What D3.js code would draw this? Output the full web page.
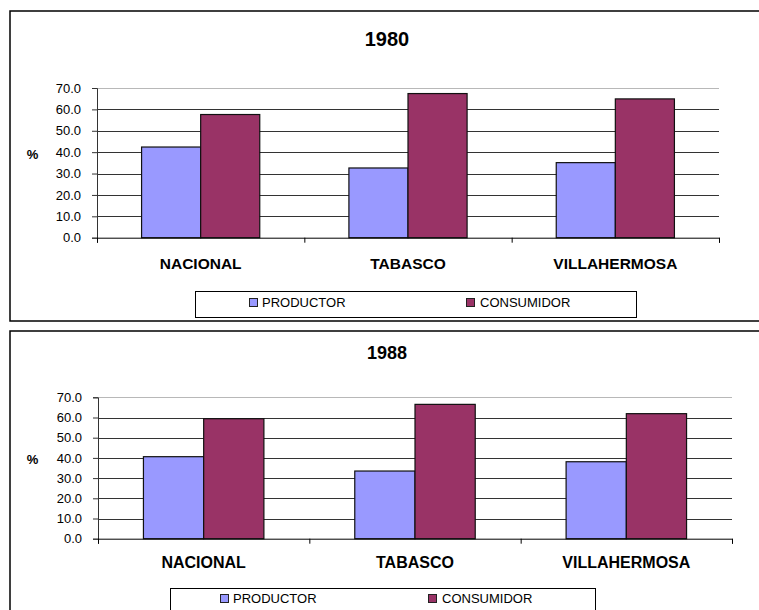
<!DOCTYPE html>
<html>
<head>
<meta charset="utf-8">
<style>
  body { margin: 0; background: #fff; }
  svg { display: block; font-family: "Liberation Sans", Arial, sans-serif; }
</style>
</head>
<body>
<div id="container"></div>
<script src="https://cdn.jsdelivr.net/npm/d3@7/dist/d3.min.js"></script>
<script>
// categories and series
var categories = ["NACIONAL", "TABASCO", "VILLAHERMOSA"];
var seriesNames = ["PRODUCTOR", "CONSUMIDOR"];
var seriesColors = ["#9999ff", "#993366"];
var yTicks = [0, 10, 20, 30, 40, 50, 60, 70];

// values (%)
var productor1980 = [42.4, 32.6, 35.1];
var consumidor1980 = [57.6, 67.4, 64.9];
var productor1988 = [40.6, 33.5, 38.1];
var consumidor1988 = [59.4, 66.5, 61.9];

var W = 759, H = 610;
var svg = d3.select("#container").append("svg")
  .attr("width", W)
  .attr("height", H);

// each panel: frame, plot box, title / labels / legend placement
var panels = [
  { year: "1980", series: [productor1980, consumidor1980],
    frame: [10, 11, 760, 310],
    left: 97, right: 719, top: 88, bottom: 237.7,
    titleY: 46, titleSize: 20, pctY: 159, catY: 269, catSize: 15.5,
    legend: { x: 195, y: 291, w: 441, h: 26, sq: [249, 466], tx: [262, 480], base: 307 } },
  { year: "1988", series: [productor1988, consumidor1988],
    frame: [10, 331, 760, 300],
    left: 98, right: 732, top: 397.3, bottom: 538.7,
    titleY: 359, titleSize: 18, pctY: 464, catY: 568, catSize: 16,
    legend: { x: 170, y: 588, w: 425, h: 40, sq: [220, 428], tx: [233, 442], base: 603 } }
];

panels.forEach(drawPanel);

function drawPanel(p) {
  var g = svg.append("g");

  // outer frame
  g.append("rect")
    .attr("x", p.frame[0]).attr("y", p.frame[1])
    .attr("width", p.frame[2]).attr("height", p.frame[3])
    .attr("fill", "#fff")
    .attr("stroke", "#000")
    .attr("stroke-width", 1.5);

  var y = d3.scaleLinear().domain([0, 70]).range([p.bottom, p.top]);

  var x0 = d3.scaleBand()
    .domain(categories)
    .range([p.left, p.right])
    .paddingInner(0.43)
    .paddingOuter(0.215);

  var x1 = d3.scaleBand()
    .domain(d3.range(seriesNames.length))
    .range([0, x0.bandwidth()])
    .padding(0);

  // gridlines
  g.append("g").selectAll("line")
    .data(yTicks.filter(function(d) { return d > 0; }))
    .enter().append("line")
    .attr("x1", p.left).attr("x2", p.right)
    .attr("y1", function(d) { return Math.round(y(d)) + 0.5; })
    .attr("y2", function(d) { return Math.round(y(d)) + 0.5; })
    .attr("stroke", function(d) { return d === 70 ? "#b8b8b8" : "#333"; })
    .attr("stroke-width", 1);

  // bars
  var rows = categories.map(function(c, i) {
    return p.series.map(function(s, j) { return { cat: c, k: j, v: s[i] }; });
  });
  g.append("g").selectAll("g")
    .data(rows)
    .enter().append("g")
    .attr("transform", function(d) { return "translate(" + x0(d[0].cat) + ",0)"; })
    .selectAll("rect")
    .data(function(d) { return d; })
    .enter().append("rect")
    .attr("x", function(d) { return x1(d.k); })
    .attr("y", function(d) { return y(d.v); })
    .attr("width", x1.bandwidth())
    .attr("height", function(d) { return p.bottom - y(d.v); })
    .attr("fill", function(d) { return seriesColors[d.k]; })
    .attr("stroke", "#111")
    .attr("stroke-width", 1.2);

  // y axis
  var yAxis = d3.axisLeft(y)
    .tickValues(yTicks)
    .tickFormat(d3.format(".1f"))
    .tickSize(5)
    .tickPadding(11);
  var ya = g.append("g")
    .attr("transform", "translate(" + p.left + ",0)")
    .call(yAxis);
  ya.select(".domain").attr("stroke", "#333");
  ya.selectAll(".tick line").attr("stroke", "#333");
  ya.selectAll("text")
    .attr("fill", "#000")
    .style("font-size", "13px")
    .style("font-family", "Liberation Sans, Arial, sans-serif");

  // x axis: ticks on category boundaries
  var xb = d3.scaleLinear().domain([0, categories.length]).range([p.left, p.right]);
  var xa = g.append("g")
    .attr("transform", "translate(0," + p.bottom + ")")
    .call(d3.axisBottom(xb).ticks(categories.length).tickSize(5).tickSizeOuter(5).tickFormat(""));
  xa.select(".domain").attr("stroke", "#000");
  xa.selectAll(".tick line").attr("stroke", "#000");

  // category labels
  g.append("g").selectAll("text")
    .data(categories)
    .enter().append("text")
    .attr("x", function(d) { return x0(d) + x0.bandwidth() / 2; })
    .attr("y", p.catY)
    .attr("text-anchor", "middle")
    .style("font-size", p.catSize + "px")
    .style("font-weight", "bold")
    .text(function(d) { return d; });

  // title
  g.append("text")
    .attr("x", 387)
    .attr("y", p.titleY)
    .attr("text-anchor", "middle")
    .style("font-size", p.titleSize + "px")
    .style("font-weight", "bold")
    .text(p.year);

  // y label
  g.append("text")
    .attr("x", 32.5)
    .attr("y", p.pctY)
    .attr("text-anchor", "middle")
    .style("font-size", "13px")
    .style("font-weight", "bold")
    .text("%");

  // legend
  var L = p.legend;
  g.append("rect")
    .attr("x", L.x + 0.5).attr("y", L.y + 0.5)
    .attr("width", L.w).attr("height", L.h)
    .attr("fill", "#fff")
    .attr("stroke", "#000")
    .attr("stroke-width", 1);
  seriesNames.forEach(function(name, k) {
    g.append("rect")
      .attr("x", L.sq[k] + 0.5).attr("y", L.base - 8.5)
      .attr("width", 8).attr("height", 8)
      .attr("fill", seriesColors[k])
      .attr("stroke", "#222")
      .attr("stroke-width", 1);
    g.append("text")
      .attr("x", L.tx[k])
      .attr("y", L.base)
      .style("font-size", "13px")
      .text(name);
  });
}
</script>
</body>
</html>
